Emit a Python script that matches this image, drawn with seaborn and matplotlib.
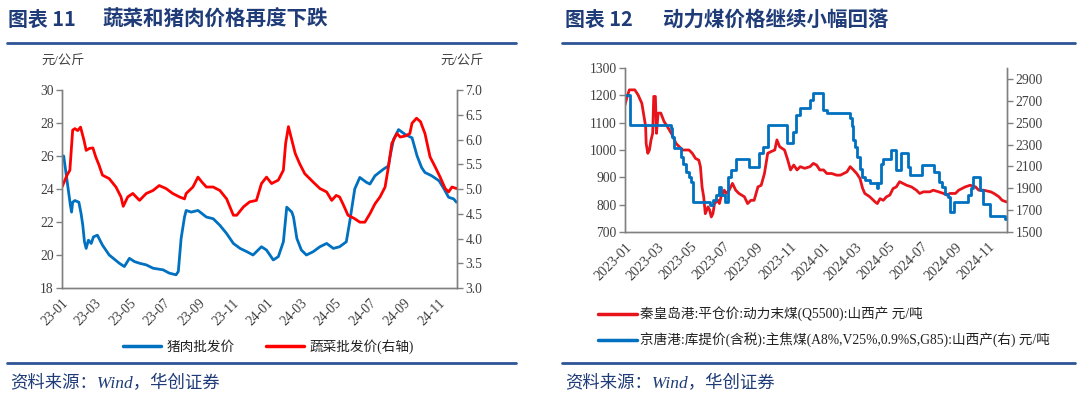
import pandas as pd
import matplotlib
matplotlib.use('Agg')
import matplotlib.pyplot as plt
import matplotlib.dates as mdates
from matplotlib.lines import Line2D
import seaborn as sns

# ----- data ----- #

# pork wholesale price (yuan/kg, left axis)
pork_dates = ['2023-01-01', '2023-01-04', '2023-01-08', '2023-01-12', '2023-01-16', '2023-01-18',
              '2023-01-20', '2023-01-24', '2023-01-31', '2023-02-04', '2023-02-07', '2023-02-10',
              '2023-02-13', '2023-02-17', '2023-02-22', '2023-02-26', '2023-03-05', '2023-03-14',
              '2023-03-26', '2023-04-13', '2023-04-22', '2023-05-01', '2023-05-10', '2023-05-19',
              '2023-05-31', '2023-06-12', '2023-06-30', '2023-07-11', '2023-07-23', '2023-07-27',
              '2023-08-01', '2023-08-07', '2023-08-10', '2023-08-19', '2023-08-31', '2023-09-15',
              '2023-09-27', '2023-10-09', '2023-10-21', '2023-11-02', '2023-11-14', '2023-11-26',
              '2023-12-07', '2023-12-22', '2023-12-31', '2024-01-12', '2024-01-21', '2024-01-30',
              '2024-02-05', '2024-02-14', '2024-02-17', '2024-02-23', '2024-03-02', '2024-03-11',
              '2024-03-23', '2024-04-04', '2024-04-16', '2024-04-28', '2024-05-09', '2024-05-21',
              '2024-05-27', '2024-06-05', '2024-06-14', '2024-06-26', '2024-07-02', '2024-07-11',
              '2024-07-26', '2024-08-04', '2024-08-07', '2024-08-13', '2024-08-22', '2024-09-03',
              '2024-09-15', '2024-09-24', '2024-10-02', '2024-10-08', '2024-10-20', '2024-11-02',
              '2024-11-11', '2024-11-19', '2024-11-28', '2024-12-03']
pork_vals = [25.8, 26.0, 25.0, 24.0, 23.0, 22.6,
             23.2, 23.3, 23.2, 22.5, 21.8, 20.8,
             20.4, 20.9, 20.7, 21.1, 21.2, 20.6,
             20.0, 19.5, 19.3, 19.8, 19.6, 19.5,
             19.4, 19.2, 19.1, 18.9, 18.8, 19.0,
             21.0, 22.3, 22.7, 22.6, 22.7, 22.3,
             22.2, 21.8, 21.3, 20.7, 20.4, 20.2,
             20.0, 20.5, 20.3, 19.7, 19.9, 20.8,
             22.9, 22.6, 22.3, 21.0, 20.3, 20.0,
             20.2, 20.5, 20.7, 20.4, 20.5, 20.8,
             22.0, 24.0, 24.7, 24.4, 24.3, 24.8,
             25.2, 25.4, 26.0, 27.0, 27.6, 27.3,
             27.1, 26.0, 25.3, 25.0, 24.8, 24.5,
             24.0, 23.5, 23.4, 23.2]

# vegetable wholesale price (yuan/kg, right axis)
veg_dates = ['2023-01-01', '2023-01-10', '2023-01-15', '2023-01-20', '2023-01-24', '2023-01-29',
             '2023-02-03', '2023-02-09', '2023-02-13', '2023-02-19', '2023-02-25', '2023-03-02',
             '2023-03-08', '2023-03-14', '2023-03-26', '2023-04-07', '2023-04-16', '2023-04-20',
             '2023-04-28', '2023-05-07', '2023-05-19', '2023-05-31', '2023-06-12', '2023-06-23',
             '2023-07-05', '2023-07-17', '2023-07-29', '2023-08-07', '2023-08-10', '2023-08-22',
             '2023-08-31', '2023-09-07', '2023-09-15', '2023-09-27', '2023-10-09', '2023-10-21',
             '2023-11-02', '2023-11-08', '2023-11-20', '2023-12-01', '2023-12-13', '2023-12-22',
             '2023-12-31', '2024-01-09', '2024-01-21', '2024-01-30', '2024-02-03', '2024-02-08',
             '2024-02-14', '2024-02-20', '2024-02-28', '2024-03-08', '2024-03-23', '2024-04-04',
             '2024-04-16', '2024-04-25', '2024-05-03', '2024-05-09', '2024-05-15', '2024-05-24',
             '2024-06-05', '2024-06-14', '2024-06-23', '2024-07-02', '2024-07-11', '2024-07-20',
             '2024-07-29', '2024-08-04', '2024-08-10', '2024-08-19', '2024-08-25', '2024-09-03',
             '2024-09-11', '2024-09-15', '2024-09-23', '2024-09-30', '2024-10-08', '2024-10-17',
             '2024-10-26', '2024-11-04', '2024-11-13', '2024-11-19', '2024-11-25', '2024-12-03']
veg_vals = [5.04, 5.28, 5.38, 6.19, 6.22, 6.18,
            6.25, 5.99, 5.78, 5.82, 5.83, 5.65,
            5.48, 5.28, 5.21, 5.04, 4.84, 4.65,
            4.84, 4.91, 4.77, 4.91, 4.97, 5.07,
            5.01, 4.91, 4.84, 4.80, 4.91, 5.04,
            5.24, 5.14, 5.04, 5.04, 4.97, 4.80,
            4.47, 4.47, 4.64, 4.74, 4.77, 5.11,
            5.24, 5.11, 5.18, 5.38, 5.92, 6.26,
            5.99, 5.72, 5.51, 5.31, 5.14, 5.01,
            4.94, 4.77, 4.87, 4.84, 4.70, 4.47,
            4.40, 4.33, 4.33, 4.50, 4.70, 4.84,
            5.04, 5.45, 5.92, 6.12, 6.05, 6.07,
            6.12, 6.33, 6.43, 6.36, 6.12, 5.65,
            5.45, 5.24, 5.01, 4.94, 5.04, 5.01]

# thermal coal, Qinhuangdao (yuan/t, left axis)
thermal_dates = ['2023-01-01', '2023-01-05', '2023-01-09', '2023-01-19', '2023-01-25', '2023-02-01',
                 '2023-02-04', '2023-02-08', '2023-02-09', '2023-02-12', '2023-02-15', '2023-02-18',
                 '2023-02-21', '2023-02-23', '2023-02-26', '2023-02-28', '2023-03-03', '2023-03-08',
                 '2023-03-14', '2023-03-20', '2023-03-29', '2023-04-05', '2023-04-11', '2023-04-17',
                 '2023-04-29', '2023-05-05', '2023-05-11', '2023-05-17', '2023-05-20', '2023-05-23',
                 '2023-05-26', '2023-05-29', '2023-06-03', '2023-06-06', '2023-06-09', '2023-06-12',
                 '2023-06-15', '2023-06-21', '2023-06-24', '2023-06-27', '2023-07-03', '2023-07-06',
                 '2023-07-12', '2023-07-18', '2023-07-24', '2023-07-30', '2023-08-09', '2023-08-15',
                 '2023-08-21', '2023-08-27', '2023-09-03', '2023-09-09', '2023-09-15', '2023-09-21',
                 '2023-09-27', '2023-10-04', '2023-10-08', '2023-10-13', '2023-10-22', '2023-10-28',
                 '2023-11-02', '2023-11-08', '2023-11-14', '2023-11-20', '2023-11-28', '2023-12-08',
                 '2023-12-14', '2023-12-20', '2023-12-26', '2024-01-02', '2024-01-08', '2024-01-17',
                 '2024-01-26', '2024-02-02', '2024-02-08', '2024-02-14', '2024-02-20', '2024-02-26',
                 '2024-03-03', '2024-03-09', '2024-03-14', '2024-03-18', '2024-03-27', '2024-04-06',
                 '2024-04-10', '2024-04-15', '2024-04-21', '2024-04-27', '2024-05-03', '2024-05-09',
                 '2024-05-15', '2024-05-21', '2024-05-27', '2024-06-03', '2024-06-12', '2024-06-21',
                 '2024-06-27', '2024-07-04', '2024-07-16', '2024-07-22', '2024-08-01', '2024-08-10',
                 '2024-08-16', '2024-08-22', '2024-09-01', '2024-09-07', '2024-09-13', '2024-09-19',
                 '2024-09-28', '2024-10-08', '2024-10-14', '2024-10-23', '2024-11-05', '2024-11-11',
                 '2024-11-20', '2024-11-26', '2024-12-04']
thermal_vals = [1165, 1196, 1220, 1220, 1202, 1171,
                1135, 1086, 1024, 988, 1000, 1037,
                1061, 1196, 1196, 1061, 1135, 1135,
                1104, 1086, 1055, 1024, 1012, 1000,
                1000, 988, 969, 963, 939, 865,
                829, 767, 792, 780, 755, 767,
                804, 816, 804, 829, 853, 841,
                853, 878, 853, 841, 829, 804,
                816, 816, 865, 871, 914, 988,
                994, 1000, 1037, 1012, 1000, 963,
                927, 945, 927, 939, 933, 939,
                951, 945, 927, 927, 914, 914,
                908, 908, 914, 920, 939, 927,
                914, 896, 859, 841, 829, 810,
                804, 822, 816, 829, 835, 859,
                865, 884, 878, 871, 865, 853,
                841, 847, 847, 853, 847, 841,
                835, 841, 841, 853, 859, 865,
                871, 865, 853, 853, 847, 841,
                829, 816, 810]

# coking coal, Jingtang port (yuan/t, right axis) - stepwise quotes
coking_dates = ['2023-01-01', '2023-01-11', '2023-03-26', '2023-03-29', '2023-04-02', '2023-04-14',
                '2023-04-18', '2023-04-23', '2023-04-29', '2023-05-02', '2023-05-07', '2023-06-06',
                '2023-06-12', '2023-06-18', '2023-06-23', '2023-06-27', '2023-07-05', '2023-07-09',
                '2023-07-15', '2023-07-24', '2023-08-18', '2023-09-05', '2023-09-12', '2023-09-21',
                '2023-10-26', '2023-11-07', '2023-11-13', '2023-11-19', '2023-12-08', '2023-12-14',
                '2023-12-31', '2024-01-08', '2024-02-19', '2024-02-23', '2024-02-26', '2024-02-29',
                '2024-03-03', '2024-03-09', '2024-03-12', '2024-03-18', '2024-03-28', '2024-04-09',
                '2024-04-12', '2024-04-16', '2024-04-21', '2024-05-05', '2024-05-14', '2024-05-23',
                '2024-06-05', '2024-06-09', '2024-07-01', '2024-07-24', '2024-08-01', '2024-08-07',
                '2024-08-12', '2024-08-18', '2024-08-22', '2024-08-30', '2024-09-25', '2024-09-29',
                '2024-10-04', '2024-10-16', '2024-10-22', '2024-11-04', '2024-12-01', '2024-12-04']
coking_vals = [2750, 2480, 2450, 2370, 2265, 2190,
               2125, 2050, 2005, 1960, 1775, 1745,
               1790, 1835, 1910, 1835, 1775, 2005,
               2065, 2170, 2095, 2220, 2280, 2480,
               2310, 2415, 2570, 2630, 2705, 2770,
               2615, 2585, 2540, 2465, 2340, 2280,
               2185, 2080, 2005, 1975, 1945, 1900,
               1945, 2125, 2170, 2250, 2065, 2220,
               2095, 2020, 2110, 2050, 1960, 1910,
               1850, 1820, 1685, 1775, 1840, 1900,
               2005, 1880, 1760, 1650, 1620, 1620]

pork_df = pd.DataFrame({'date': pd.to_datetime(pork_dates), 'price': pork_vals})
veg_df = pd.DataFrame({'date': pd.to_datetime(veg_dates), 'price': veg_vals})
thermal_df = pd.DataFrame({'date': pd.to_datetime(thermal_dates), 'price': thermal_vals})
coking_df = pd.DataFrame({'date': pd.to_datetime(coking_dates), 'price': coking_vals})

# ----- styling ----- #
sns.set_theme(style='white')
plt.rcParams['font.family'] = ['Liberation Serif', 'Noto Sans CJK SC']
plt.rcParams['axes.unicode_minus'] = False

navy = '#1F3C78'
rule_color = '#2E5597'
spine_color = '#808080'
tick_color = '#404040'
blue = '#0070C0'
red = '#FF0000'
red2 = '#E8141B'

fig = plt.figure(figsize=(10.8, 4.08), dpi=100)


def style_axes(ax, ax2):
    for a in (ax, ax2):
        a.spines['top'].set_visible(False)
        for s in ('left', 'right', 'bottom'):
            a.spines[s].set_color(spine_color)
            a.spines[s].set_linewidth(1.0)
        a.tick_params(axis='both', which='major', direction='out', length=4, width=1,
                      color=spine_color, labelcolor=tick_color, labelsize=9.8, pad=2)
        a.set_xlabel('')
        a.set_ylabel('')
        a.grid(False)


def set_date_axis(ax, fmt, start, end):
    ax.set_xlim(pd.Timestamp(start), pd.Timestamp(end))
    ax.xaxis.set_major_locator(mdates.MonthLocator(bymonth=[1, 3, 5, 7, 9, 11]))
    ax.xaxis.set_major_formatter(mdates.DateFormatter(fmt))
    for lbl in ax.get_xticklabels():
        lbl.set_rotation(45)
        lbl.set_ha('right')
        lbl.set_rotation_mode('anchor')


# ----- left chart: pork and vegetables ----- #
ax1 = fig.add_axes([62 / 1080, 1 - 288 / 408, (457 - 62) / 1080, (288 - 90) / 408])
ax1b = ax1.twinx()
sns.lineplot(data=pork_df, x='date', y='price', ax=ax1, color=blue, linewidth=2.0, legend=False)
sns.lineplot(data=veg_df, x='date', y='price', ax=ax1b, color=red, linewidth=2.0, legend=False)
ax1.set_ylim(18, 30)
ax1.set_yticks([18, 20, 22, 24, 26, 28, 30])
ax1b.set_ylim(3.0, 7.0)
ax1b.set_yticks([3.0, 3.5, 4.0, 4.5, 5.0, 5.5, 6.0, 6.5, 7.0])
ax1b.yaxis.set_major_formatter(matplotlib.ticker.FormatStrFormatter('%.1f'))
style_axes(ax1, ax1b)
set_date_axis(ax1, '%y-%m', '2023-01-01', '2024-12-04')

fig.text(41 / 1080, 1 - 62 / 408, '元/公斤', fontsize=9.5, color=tick_color, va='center')
fig.text(440 / 1080, 1 - 62 / 408, '元/公斤', fontsize=9.5, color=tick_color, va='center')

h1 = [Line2D([], [], color=blue, lw=2.5), Line2D([], [], color=red, lw=2.5)]
fig.legend(h1, ['猪肉批发价', '蔬菜批发价(右轴)'], loc='center',
           bbox_to_anchor=(268 / 1080, 1 - 347 / 408), ncol=2, frameon=False,
           fontsize=9.8, handlelength=2.8, handletextpad=0.4, columnspacing=2.3,
           labelcolor='#222222')

# ----- right chart: coal prices ----- #
ax2 = fig.add_axes([625 / 1080, 1 - 232 / 408, (1007 - 625) / 1080, (232 - 68) / 408])
ax2b = ax2.twinx()
sns.lineplot(data=thermal_df, x='date', y='price', ax=ax2, color=red2, linewidth=2.0, legend=False)
sns.lineplot(data=coking_df, x='date', y='price', ax=ax2b, color=blue, linewidth=2.0,
             legend=False, drawstyle='steps-post')
ax2.set_ylim(700, 1300)
ax2.set_yticks(range(700, 1301, 100))
ax2b.set_ylim(1500, 3000)
ax2b.set_yticks(range(1500, 3000, 200))
style_axes(ax2, ax2b)
set_date_axis(ax2, '%Y-%m', '2023-01-01', '2024-12-05')
ax2.tick_params(axis='x', labelsize=10.2)

h2 = [Line2D([], [], color=red2, lw=2.5), Line2D([], [], color=blue, lw=2.5)]
fig.legend(h2, ['秦皇岛港:平仓价:动力末煤(Q5500):山西产 元/吨',
                '京唐港:库提价(含税):主焦煤(A8%,V25%,0.9%S,G85):山西产(右) 元/吨'],
           loc='center left', bbox_to_anchor=(598 / 1080, 1 - 327.5 / 408), ncol=1,
           frameon=False, fontsize=9.8, handlelength=2.9, handletextpad=0.2,
           labelspacing=0.85, borderaxespad=0, borderpad=0, labelcolor='#222222')

# ----- titles, rules and source notes ----- #
for x0, num, x1, txt in [(8, '图表 11', 102, '蔬菜和猪肉价格再度下跌'),
                         (565, '图表 12', 663, '动力煤价格继续小幅回落')]:
    fig.text(x0 / 1080, 1 - 19 / 408, num, fontsize=14.3, fontweight='bold', color=navy,
             va='center', family=['Noto Sans CJK SC'])
    fig.text(x1 / 1080, 1 - 19 / 408, txt, fontsize=14.8, fontweight='bold', color=navy,
             va='center', family=['Noto Sans CJK SC'])

for x0, x1 in [(7, 516), (562, 1075)]:
    for y in (43, 363):
        fig.add_artist(Line2D([x0 / 1080, x1 / 1080], [1 - y / 408, 1 - y / 408],
                              transform=fig.transFigure, color=rule_color, lw=2.0))

for x0 in (10, 565):
    fig.text(x0 / 1080, 1 - 384 / 408, '资料来源：Wind，华创证券', fontsize=12.5,
             style='italic', color=navy, va='center')

fig.savefig('out.png', dpi=100, facecolor='white')
